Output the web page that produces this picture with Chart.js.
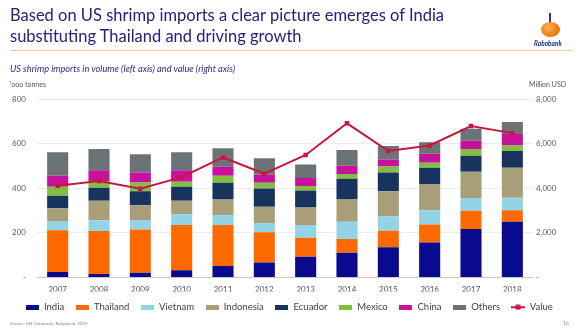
<!DOCTYPE html>
<html>
<head>
<meta charset="utf-8">
<script src="https://cdn.jsdelivr.net/npm/chart.js@4"></script>
<style>
  html, body { margin: 0; padding: 0; background: #ffffff; }
  #wrap { position: relative; width: 578px; height: 332px; overflow: hidden; font-family: Lato, "Open Sans", sans-serif; }
  #c { position: absolute; left: 0; top: 0; }
  .t { position: absolute; white-space: nowrap; }
  #title { left: 10px; top: 5px; font-size: 16.5px; line-height: 21px; color: #23237a; }
  #rule { position: absolute; left: 10px; top: 50px; width: 562px; height: 1px; background: #f3c8aa; }
  #sub { left: 10px; top: 63px; font-size: 9.2px; font-style: italic; color: #2b2b8c; }
  #lunit { left: 10px; top: 80px; font-size: 7px; color: #555; }
  #runit { left: 529px; top: 80px; font-size: 7px; color: #555; }
  #src { left: 10px; top: 321px; font-size: 4.5px; color: #888; }
  #pg { left: 563px; top: 320px; font-size: 5px; color: #888; }
  #ball { position: absolute; left: 541px; top: 22px; width: 19px; height: 15px; border-radius: 50%;
          background: radial-gradient(circle at 40% 35%, #ffb25a, #f07c12 60%, #d9650a); }
  #fig { position: absolute; left: 549px; top: 13px; width: 2px; height: 12px; background: #3a3a5a; }
  #logo { left: 534px; top: 40px; font-size: 6.5px; font-weight: bold; font-style: italic; color: #1b2c8c; }
</style>
</head>
<body>
<div id="wrap">
  <canvas id="c" width="578" height="332"></canvas>
  <div class="t" id="title">Based on US shrimp imports a clear picture emerges of India<br>substituting Thailand and driving growth</div>
  <div id="rule"></div>
  <div id="fig"></div>
  <div id="ball"></div>
  <div class="t" id="logo">Rabobank</div>
  <div class="t" id="sub">US shrimp imports in volume (left axis) and value (right axis)</div>
  <div class="t" id="lunit">'ooo tonnes</div>
  <div class="t" id="runit">Million USD</div>
  <div class="t" id="src">Source: UN Comtrade, Rabobank, 2019</div>
  <div class="t" id="pg">16</div>
</div>
<script>
// ---- data ('000 tonnes, left axis) ----
const years = ['2007','2008','2009','2010','2011','2012','2013','2014','2015','2016','2017','2018'];
const india     = [25, 16, 21, 33, 51, 67, 93, 111, 136, 157, 217, 250];
const thailand  = [187, 192, 194, 202, 184, 136, 85, 62, 73, 81, 82, 51];
const vietnam   = [41, 49, 41, 49, 45, 41, 57, 77, 65, 63, 57, 56];
const indonesia = [57, 87, 68, 60, 70, 73, 79, 100, 112, 116, 118, 135];
const ecuador   = [56, 58, 63, 63, 75, 82, 76, 93, 85, 75, 72, 75];
const mexico    = [41, 27, 39, 22, 31, 26, 20, 21, 27, 22, 30, 25];
const china     = [49, 52, 45, 52, 40, 37, 36, 37, 31, 41, 37, 51];
const others    = [105, 95, 81, 80, 83, 73, 61, 70, 60, 51, 54, 54];
// ---- data (million USD, right axis) ----
const valueUSD  = [4110, 4320, 3980, 4500, 5380, 4650, 5490, 6910, 5670, 5920, 6790, 6470];

const leftTicks  = [0, 200, 400, 600, 800];
const rightTicks = [0, 2000, 4000, 6000, 8000];

const colors = {
  India: '#0a0a8e', Thailand: '#ff6a00', Vietnam: '#93d3e6', Indonesia: '#a89e7a',
  Ecuador: '#18345e', Mexico: '#82bf40', China: '#c8119c', Others: '#6b7377', Value: '#c8173f'
};

const barSeries = [
  ['India', india], ['Thailand', thailand], ['Vietnam', vietnam], ['Indonesia', indonesia],
  ['Ecuador', ecuador], ['Mexico', mexico], ['China', china], ['Others', others]
];

function boxIcon(color) {
  const c = document.createElement('canvas'); c.width = 13; c.height = 5;
  const x = c.getContext('2d'); x.fillStyle = color; x.fillRect(0, 0, 13, 5); return c;
}
function lineIcon(color) {
  const c = document.createElement('canvas'); c.width = 14; c.height = 6;
  const x = c.getContext('2d'); x.fillStyle = color; x.fillRect(0, 2, 14, 2); x.fillRect(4.5, 0.5, 5, 5); return c;
}

const datasets = barSeries.map(([name, vals]) => ({
  type: 'bar', label: name, data: vals, backgroundColor: colors[name], borderWidth: 0,
  yAxisID: 'y', stack: 'vol', order: 1, categoryPercentage: 1.0, barPercentage: 0.51
}));
datasets.push({
  type: 'line', label: 'Value', data: valueUSD, yAxisID: 'y1', order: 0,
  borderColor: colors.Value, backgroundColor: colors.Value, borderWidth: 2, tension: 0,
  pointStyle: 'rect', pointRadius: 3.2, pointBackgroundColor: colors.Value, pointBorderWidth: 0
});

const icons = datasets.map(ds => ds.type === 'line' ? lineIcon(ds.borderColor) : boxIcon(ds.backgroundColor));

const fmt = v => v === 0 ? '-' : v.toLocaleString('en-US');

new Chart(document.getElementById('c'), {
  data: { labels: years, datasets },
  options: {
    responsive: false, animation: false, maintainAspectRatio: false,
    layout: { padding: { top: 99, left: 0, right: 0, bottom: 10 } },
    plugins: {
      tooltip: { enabled: false },
      legend: {
        position: 'bottom',
        labels: {
          usePointStyle: true, pointStyleWidth: 14, boxHeight: 6, padding: 11,
          color: '#404040', font: { family: 'Lato', size: 9.5 },
          generateLabels: (chart) => chart.data.datasets.map((ds, i) => ({
            text: ds.label, pointStyle: icons[i], datasetIndex: i, hidden: false,
            fontColor: '#404040', lineWidth: 0, strokeStyle: 'rgba(0,0,0,0)', fillStyle: 'rgba(0,0,0,0)'
          }))
        }
      }
    },
    scales: {
      x: {
        stacked: true,
        grid: { display: false, drawTicks: false },
        border: { display: true, color: '#c8c8c8', width: 1 },
        ticks: { color: '#505050', font: { family: 'Lato', size: 8 }, padding: 7, maxRotation: 0 },
        afterFit: s => { s.height = 14; }
      },
      y: {
        stacked: true, position: 'left', min: 0, max: 800,
        afterBuildTicks: s => { s.ticks = leftTicks.map(v => ({ value: v })); },
        grid: { color: '#ececec', drawTicks: false },
        border: { display: false },
        ticks: { color: '#606060', font: { family: 'Lato', size: 8 }, padding: 11, callback: fmt },
        afterFit: s => { s.width = 37; }
      },
      y1: {
        position: 'right', min: 0, max: 8000,
        afterBuildTicks: s => { s.ticks = rightTicks.map(v => ({ value: v })); },
        grid: { display: false, drawTicks: false },
        border: { display: false },
        ticks: { color: '#606060', font: { family: 'Lato', size: 8 }, padding: 3, callback: fmt },
        afterFit: s => { s.width = 45; }
      }
    }
  }
});
</script>
</body>
</html>
